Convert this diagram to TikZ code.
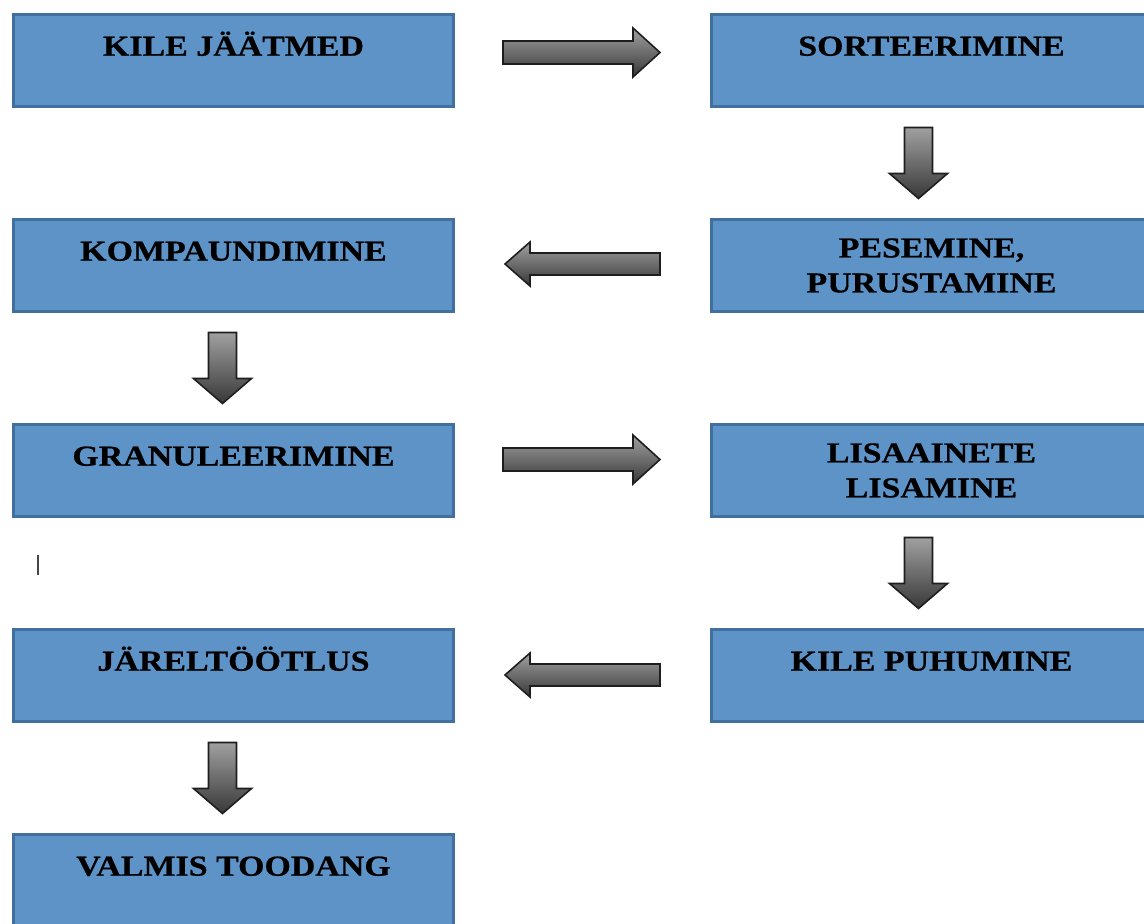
\documentclass[tikz,border=0pt]{standalone}
\usepackage{fontspec}
\setmainfont{Liberation Serif}
\newfontfamily\stepfont[FakeStretch=1.17,FakeBold=0.6]{Liberation Serif Bold}
\usetikzlibrary{calc}
\definecolor{boxblue}{HTML}{5E93C7}
\definecolor{boxedge}{HTML}{41709F}
\definecolor{arrowlight}{HTML}{A0A0A0}
\definecolor{arrowdark}{HTML}{383838}
\definecolor{arrowedge}{HTML}{1E1E1E}
\definecolor{paper}{HTML}{FFFFFF}
\newcommand{\blockarrpath}[4]{%
  \draw[arrowedge,line width=0.9pt,top color=arrowlight,bottom color=arrowdark,line join=miter]
    (-#1/2,-#3) -- ({#1/2-#2},-#3) -- ({#1/2-#2},-#4) -- (#1/2,0)
    -- ({#1/2-#2},#4) -- ({#1/2-#2},#3) -- (-#1/2,#3) -- cycle;}
\tikzset{
  stepcard/.style={draw=boxedge,fill=boxblue,line width=1.7pt,minimum width=440*0.02cm,minimum height=92*0.02cm,inner sep=0pt,align=center,font=\fontsize{16.5}{19.9}\stepfont},
  onecard/.style={stepcard,text height=11pt,text depth=16.5pt},
  pics/rightarr/.style={code={\blockarrpath{157}{27}{11.5}{24.5}}},
  pics/leftarr/.style={code={\blockarrpath{155}{25}{11}{22}}},
  pics/downarr/.style={code={\blockarrpath{71}{25}{14}{29}}}
}

\begin{document}
\begin{tikzpicture}[x=0.02cm,y=-0.02cm]
  \useasboundingbox (0,0) rectangle (1144,924);
  \fill[paper] (0,0) rectangle (1144,924);
  \clip (0,0) rectangle (1144,924);
  % process steps
  \node[onecard] (kile) at (233.5,60.5) {KILE JÄÄTMED};
  \node[onecard] (sort) at (931.5,60.5) {SORTEERIMINE};
  \node[stepcard] (pese) at (931.5,265.5) {PESEMINE,\\PURUSTAMINE};
  \node[onecard] (komp) at (233.5,265.5) {KOMPAUNDIMINE};
  \node[onecard] (gran) at (233.5,470.5) {GRANULEERIMINE};
  \node[stepcard] (lisa) at (931.5,470.5) {LISAAINETE\\LISAMINE};
  \node[onecard] (puhu) at (931.5,675.5) {KILE PUHUMINE};
  \node[onecard] (jarel) at (233.5,675.5) {JÄRELTÖÖTLUS};
  \node[onecard] (valmis) at (233.5,880.5) {VALMIS TOODANG};
  % block arrows between steps
  \pic at ($(kile.east)!0.5!(sort.west)+(-1,-8)$) {rightarr};
  \pic[rotate=-90] at ($(sort.south)!0.5!(pese.north)+(-13,0)$) {downarr};
  \pic[rotate=180] at ($(pese.west)!0.5!(komp.east)+(0,-1.5)$) {leftarr};
  \pic[rotate=-90] at ($(komp.south)!0.5!(gran.north)+(-11,0)$) {downarr};
  \pic at ($(gran.east)!0.5!(lisa.west)+(-1,-11)$) {rightarr};
  \pic[rotate=-90] at ($(lisa.south)!0.5!(puhu.north)+(-13,0)$) {downarr};
  \pic[rotate=180] at ($(puhu.west)!0.5!(jarel.east)+(0,-0.5)$) {leftarr};
  \pic[rotate=-90] at ($(jarel.south)!0.5!(valmis.north)+(-11,0)$) {downarr};
  % stray mark
  \draw[line width=1.2pt,gray!55!black] (38,555) -- (38,575);
\end{tikzpicture}
\end{document}
